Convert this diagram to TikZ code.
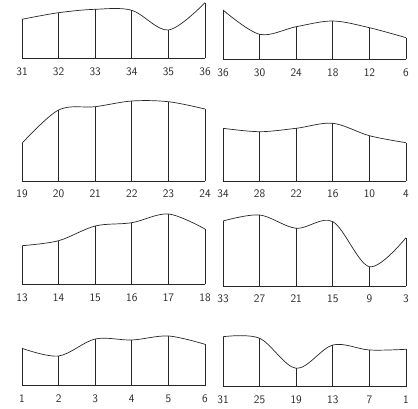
\documentclass[tikz,border=0pt]{standalone}
\usetikzlibrary{calc, positioning}

\tikzset{
    pline/.style={line width=0.7pt, black!85},
    plabel/.style={font=\sffamily\fontsize{11.5}{13}\selectfont, black!85},
}

\begin{document}
\begin{tikzpicture}[x=1pt, y=-1pt]
                \useasboundingbox (0,0) rectangle (418,409);
                % panel name / left x / baseline / labels / curve heights
                \foreach \pn/\xo/\yb/\labs/\tops in {
                    A/22/58.5/{31,32,33,34,35,36}/{19.3,12.7,9.3,10.3,30,2.7},
                    B/223/59.3/{36,30,24,18,12,6}/{10,34.3,26.7,21,27.7,37.7},
                    C/22/181/{19,20,21,22,23,24}/{143.3,110,106.7,101,101.7,109},
                    D/223/181/{34,28,22,16,10,4}/{128.3,131.7,128.3,123.3,135.7,142.7},
                    E/22/284.3/{13,14,15,16,17,18}/{245.7,240.7,226,222.7,214,229},
                    F/223/286/{33,27,21,15,9,3}/{221,215,228.3,221.7,266.7,237.7},
                    G/22/385.7/{1,2,3,4,5,6}/{348.3,356,339,340,336,344.3},
                    H/223/386.7/{31,25,19,13,7,1}/{336.7,338.3,368.3,345,350,349.3}}
                {
                    \foreach \ty [count=\i] in \tops {
                        \coordinate (\pn-b\i) at ({\xo+36.6*(\i-1)}, \yb);
                        \coordinate (\pn-t\i) at ({\xo+36.6*(\i-1)}, \ty);
                        \draw[pline] (\pn-b\i) -- (\pn-t\i);
                    }
                    \foreach \l [count=\i] in \labs
                    \node[plabel, below=5.5pt of \pn-b\i] (\pn-l\i) {\l};
                    
                    \draw[pline] (\pn-b1) -- (\pn-b6);
                    \draw[pline] plot[smooth, tension=0.55] coordinates {(\pn-t1) (\pn-t2) (\pn-t3) (\pn-t4) (\pn-t5) (\pn-t6)};
                }
            \end{tikzpicture}
\end{document}
